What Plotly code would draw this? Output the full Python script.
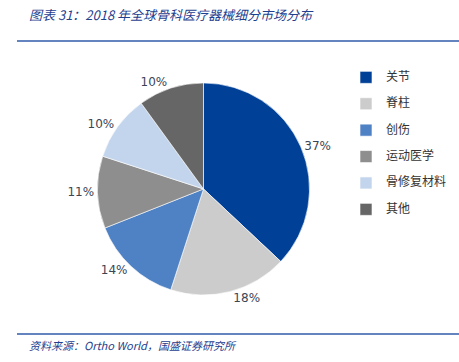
import plotly.graph_objects as go

categories = ["关节", "脊柱", "创伤", "运动医学", "骨修复材料", "其他"]
values = [37, 18, 14, 11, 10, 10]
colors = ["#004097", "#CCCCCC", "#4F81C5", "#8E8E8E", "#C3D5EC", "#666666"]

title_text = "图表 31：2018 年全球骨科医疗器械细分市场分布"
source_text = "资料来源：Ortho World，国盛证券研究所"

W, H = 459, 362
font_family = "Noto Sans CJK SC, Noto Sans, sans-serif"
label_family = "DejaVu Sans, Noto Sans, sans-serif"

legend_labels = ['<span style="font-size:12px">%s</span><br> ' % c for c in categories]

fig = go.Figure()
fig.add_trace(go.Pie(
    labels=legend_labels,
    values=values,
    marker=dict(colors=colors, line=dict(color="white", width=0.6)),
    sort=False,
    direction="clockwise",
    rotation=0,
    textinfo="percent",
    texttemplate="%{percent:.0%}",
    textposition="outside",
    textfont=dict(size=12, color="#3A4556", family=label_family),
    hole=0,
    domain=dict(x=[0.2124, 0.6743], y=[0.185, 0.771]),
    showlegend=True,
))

fig.update_layout(
    width=W, height=H,
    margin=dict(l=0, r=0, t=0, b=0),
    paper_bgcolor="white",
    plot_bgcolor="white",
    font=dict(family=font_family, color="#333333"),
    legend=dict(
        x=346/W, y=1-65/H, xanchor="left", yanchor="top",
        font=dict(size=9, color="#333333", family=font_family),
        itemwidth=30,
        valign="top",
        bgcolor="rgba(0,0,0,0)",
    ),
    shapes=[
        dict(type="line", xref="paper", yref="paper", x0=17/W, x1=1, y0=1-41/H, y1=1-41/H,
             line=dict(color="#2F5BA8", width=1.5)),
        dict(type="line", xref="paper", yref="paper", x0=17/W, x1=1, y0=1-334/H, y1=1-334/H,
             line=dict(color="#2F5BA8", width=1.5)),
    ],
    annotations=[
        dict(text="<i>" + title_text + "</i>", xref="paper", yref="paper", x=27/W, y=1-15/H,
             xanchor="left", yanchor="middle", showarrow=False,
             font=dict(size=13, color="#1F3F8F", family=font_family)),
        dict(text="<i>" + source_text + "</i>", xref="paper", yref="paper", x=27/W, y=1-345/H,
             xanchor="left", yanchor="middle", showarrow=False,
             font=dict(size=11, color="#1F3F8F", family=font_family)),
    ],
)

fig.write_html("out.html", config={"displayModeBar": False},
               post_script="document.body.style.margin='0px';")
